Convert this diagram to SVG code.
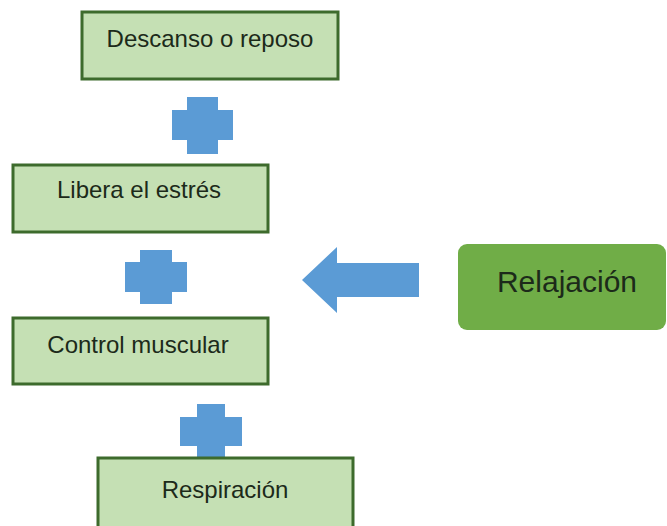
<svg xmlns="http://www.w3.org/2000/svg" width="667" height="526" viewBox="0 0 667 526">
<style>
.box{fill:#c5e0b4;stroke:#3d6b2c;stroke-width:3}
.lbl{font-family:"Liberation Sans",Arial,sans-serif;font-size:24px;fill:#1c2a1a;text-anchor:middle}
.blue{fill:#5b9bd5}
</style>
<rect width="667" height="526" fill="#ffffff"/>
<g id="connectors">
<path class="blue" d="M187,97 H218 V110 H233 V140 H218 V154 H187 V140 H172 V110 H187 Z"/>
<path class="blue" d="M140,250 H172 V262 H187 V292 H172 V304 H140 V292 H125 V262 H140 Z"/>
<path class="blue" d="M197,404 H225 V417 H242 V446 H225 V457 H197 V446 H180 V417 H197 Z"/>
<path class="blue" d="M302,280 L337,247 V263 H419 V297 H337 V313 Z"/>
</g>
<g id="n1"><rect class="box" x="82" y="12" width="256" height="67"/><text class="lbl" x="210" y="47">Descanso o reposo</text></g>
<g id="n2"><rect class="box" x="13" y="165" width="255" height="67"/><text class="lbl" x="139" y="198">Libera el estrés</text></g>
<g id="n3"><rect class="box" x="13" y="318" width="255" height="66"/><text class="lbl" x="138" y="353">Control muscular</text></g>
<g id="n4"><rect class="box" x="98" y="458" width="255" height="80"/><text class="lbl" x="225" y="498">Respiración</text></g>
<g id="relajacion"><rect x="458" y="244" width="208" height="86" rx="9" fill="#70ad47"/><text class="lbl" x="567" y="292" style="font-size:30px">Relajación</text></g>
</svg>
